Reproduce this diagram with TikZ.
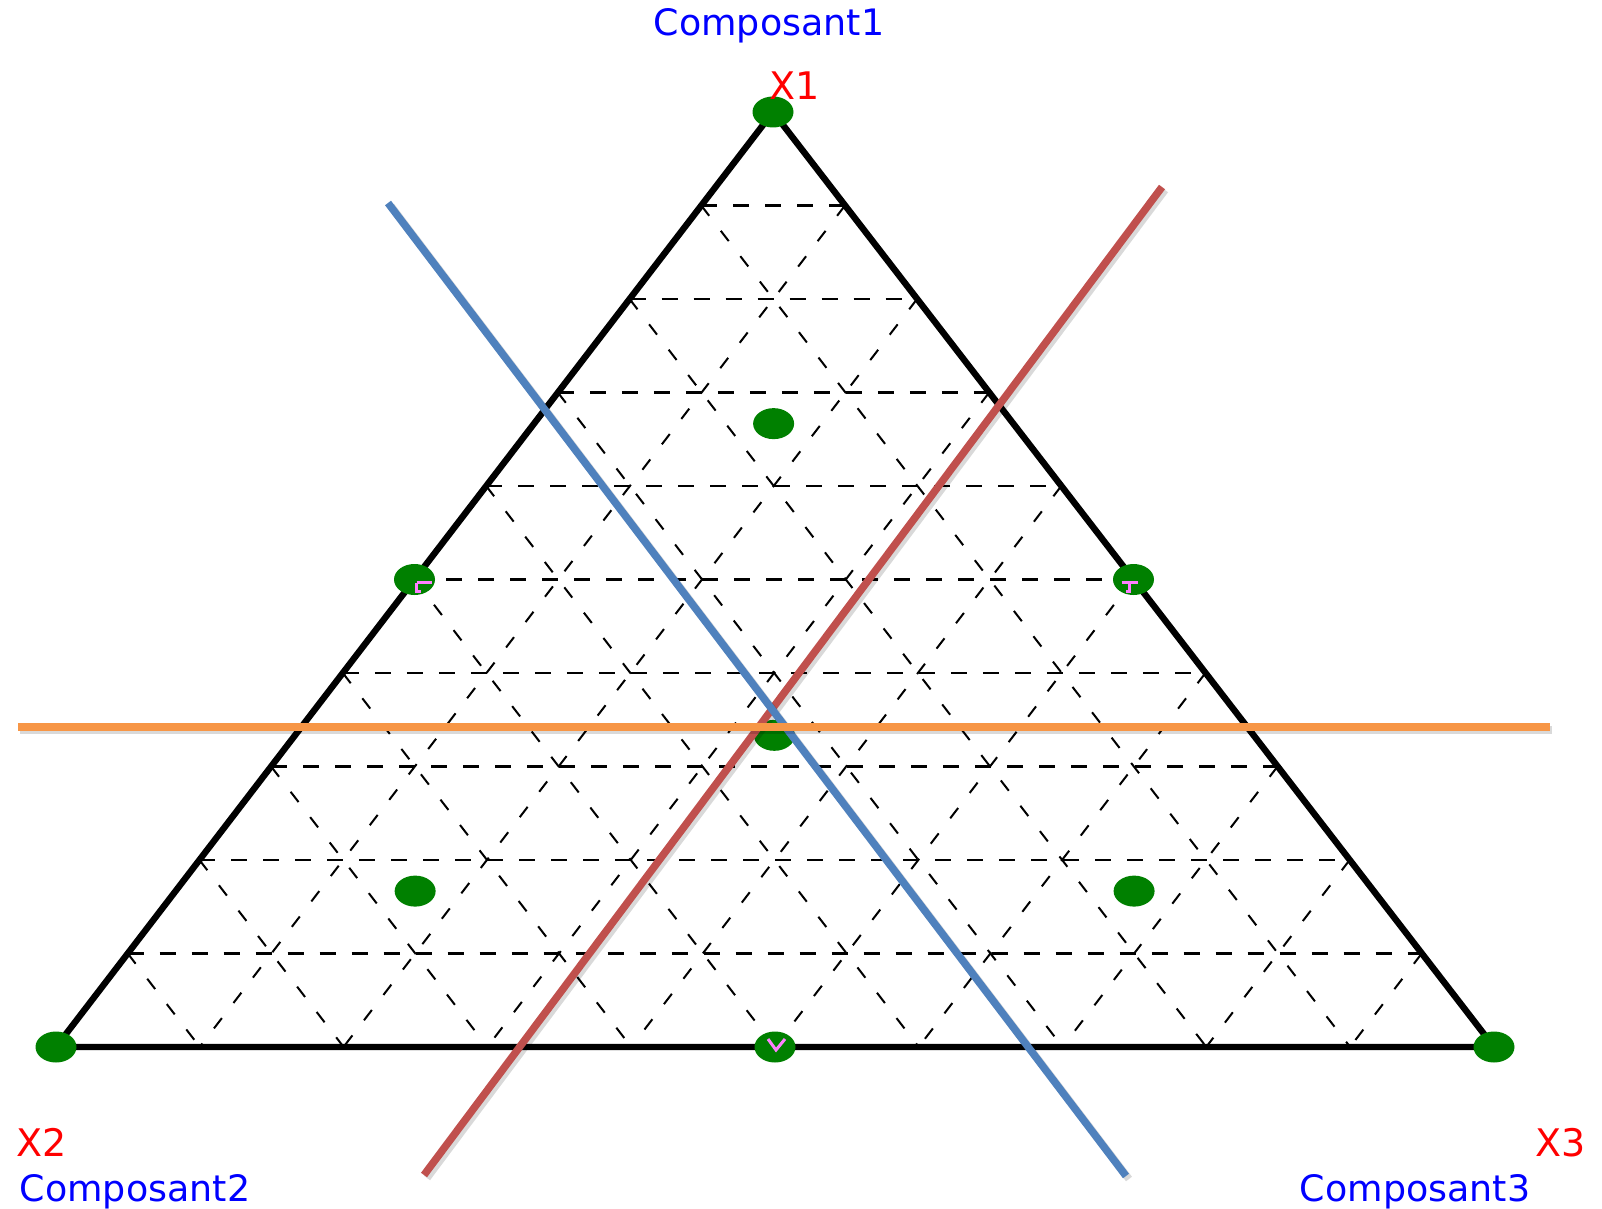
\documentclass[tikz,border=0pt]{standalone}
\usepackage{fontspec}
\setmainfont{DejaVu Sans}
\usetikzlibrary{shapes.geometric}
\usepackage{xcolor}
\definecolor{CompBlue}{RGB}{0,0,255}
\definecolor{VertRed}{RGB}{255,0,0}
\definecolor{DotGreen}{RGB}{0,128,0}
\definecolor{CutBlue}{RGB}{79,129,189}
\definecolor{CutRed}{RGB}{192,80,77}
\definecolor{CutOrange}{RGB}{247,150,70}
\definecolor{TickPink}{RGB}{255,128,255}
\tikzset{
    edge/.style={
        line width=3.2pt, black, line join=round
    },
    gridh/.style={
        line width=1.2pt, dash pattern=on 8pt off 8pt
    },
    gridd/.style={
        line width=1pt, dash pattern=on 6.5pt off 9.5pt
    },
    design/.style={
        ellipse, fill=DotGreen, minimum width=20.5pt, minimum height=15.5pt, inner sep=0pt
    },
    cut/.style={
        line width=3.75pt
    },
    cutshadow/.style={
        line width=3.75pt, black, opacity=0.15
    },
    complabel/.style={
        text=CompBlue, font=\fontsize{18.2}{20}\selectfont, anchor=base, inner sep=0pt
    },
    vertlabel/.style={
        text=VertRed, font=\fontsize{19}{20}\selectfont, anchor=base, inner sep=0pt
    },
    tick/.style={
        TickPink, line width=1.5pt
    }
}

\begin{document}
\begin{tikzpicture}[x=0.5pt, y=-0.5pt]
    \useasboundingbox (0,0) rectangle (1602,1209);

    % vertices of the simplex
    \coordinate (x1) at (773,112);
    \coordinate (x2) at (56,1047);
    \coordinate (x3) at (1494,1047);

    % dashed grid, step 0.1
    \foreach \i in {1,...,9} {
        \pgfmathtruncatemacro\j{10-\i}
        \draw[gridh] (barycentric cs:x1=\i,x2=\j,x3=0) -- (barycentric cs:x1=\i,x2=0,x3=\j);
        \draw[gridd] (barycentric cs:x1=\j,x2=\i,x3=0) -- (barycentric cs:x1=0,x2=\i,x3=\j);
        \draw[gridd] (barycentric cs:x1=\j,x2=0,x3=\i) -- (barycentric cs:x1=0,x2=\j,x3=\i);
    }

    % triangle
    \draw[edge] (x1) -- (x2) -- (x3) -- cycle;

    % design points
    \node[design] (d1) at (x1) {};
    \node[design] (d2) at (x2) {};
    \node[design] (d3) at (x3) {};
    \node[design] (d12) at (barycentric cs:x1=1,x2=1,x3=0) {};
    \node[design] (d13) at (barycentric cs:x1=1,x2=0,x3=1) {};
    \node[design] (d23) at (barycentric cs:x1=0,x2=1,x3=1) {};
    \node[design] (d0) at (barycentric cs:x1=1,x2=1,x3=1) {};
    \node[design] (d1c) at (barycentric cs:x1=4,x2=1,x3=1) {};
    \node[design] (d2c) at (barycentric cs:x1=1,x2=4,x3=1) {};
    \node[design] (d3c) at (barycentric cs:x1=1,x2=1,x3=4) {};

    % little marks on the mid points
    \draw[tick] ([shift={(2,3)}]d12.center) -- ++(15,0) ([shift={(2,3)}]d12.center) -- ++(0,9) -- ++(4,0);
    \draw[tick] ([shift={(-12,3)}]d13.center) -- ++(16,0) ([shift={(-4,3)}]d13.center) -- ++(0,9) -- ++(-4,0);
    \draw[tick] ([shift={(-7,-8)}]d23.center) -- ++(8,11) -- ++(9,-11);

    % cutting lines
    \coordinate (r1) at (1162,187);
    \coordinate (r2) at (424,1175);
    \coordinate (b1) at (388,203);
    \coordinate (b2) at (1126,1176);
    \coordinate (o1) at (18,727);
    \coordinate (o2) at (1550,727);
    \draw[cutshadow] ([shift={(3,3)}]r1) -- ([shift={(3,3)}]r2);
    \draw[cut, CutRed] (r1) -- (r2);
    \draw[cutshadow] ([shift={(3,3)}]b1) -- ([shift={(3,3)}]b2);
    \draw[cut, CutBlue] (b1) -- (b2);
    \draw[cutshadow] ([shift={(2,3)}]o1) -- ([shift={(2,3)}]o2);
    \draw[cut, CutOrange] (o1) -- (o2);

    % labels
    \node[complabel] (c1) at (769,36) {Composant1};
    \node[vertlabel] (v1) at (795,100) {X1};
    \node[vertlabel] (v2) at (42,1156) {X2};
    \node[complabel] (c2) at (135,1201) {Composant2};
    \node[vertlabel] (v3) at (1561,1156) {X3};
    \node[complabel] (c3) at (1415,1201) {Composant3};

\end{tikzpicture}
\end{document}
